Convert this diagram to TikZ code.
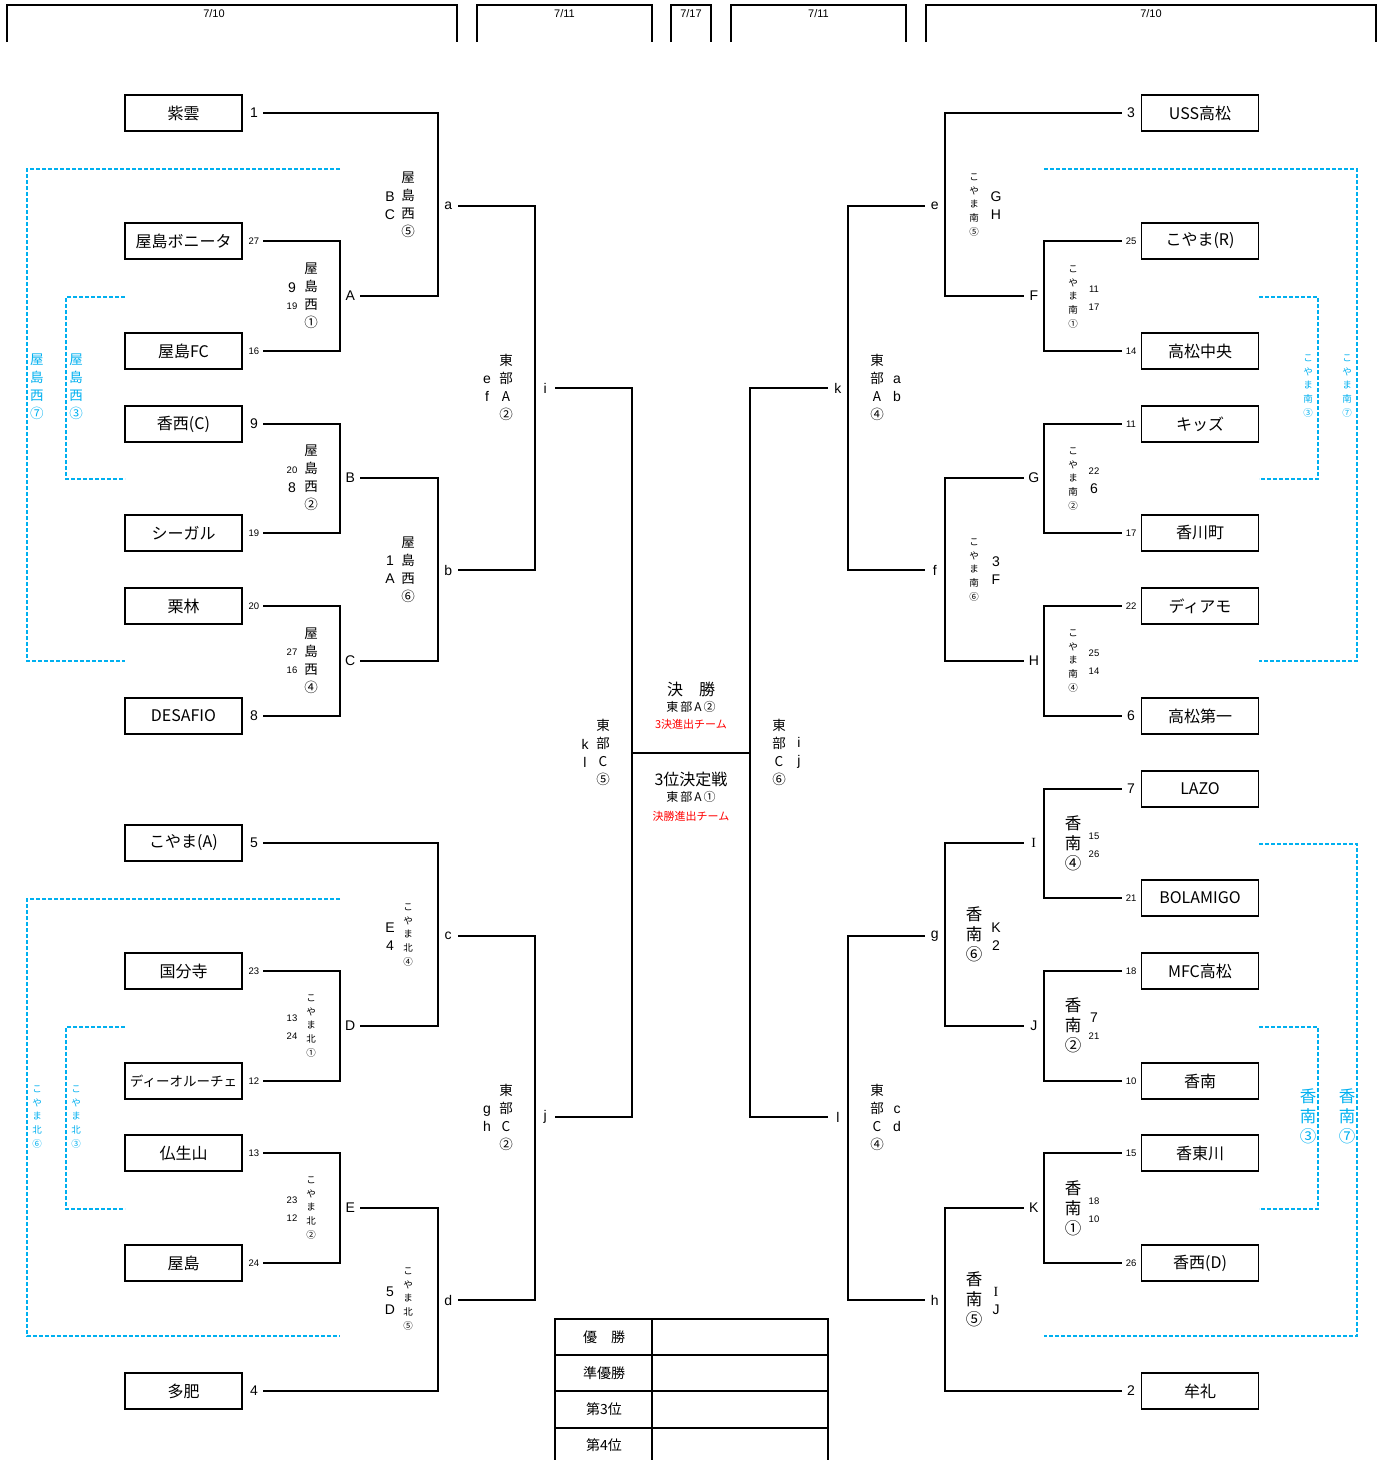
\documentclass[tikz,border=0pt]{standalone}
\usepackage{fontspec}
\setmainfont{Noto Sans CJK JP}
\newfontfamily\latinfont{Liberation Sans}
\newfontfamily\romanI{Liberation Serif}
\usetikzlibrary{positioning}
\definecolor{poolblue}{HTML}{00B0F0}
\definecolor{notered}{HTML}{FF0000}
\tikzset{
	header/.style={line width=1.2pt},
	datetext/.style={font=\latinfont\fontsize{11}{11}\selectfont, inner sep=0pt},
	team/.style={draw, line width=1.5pt, minimum width=117pt, minimum height=36pt, inner sep=0pt, font=\fontsize{16}{16}\selectfont},
	bignum/.style={font=\latinfont\fontsize{14}{14}\selectfont, minimum width=18pt, inner sep=0pt},
	smallnum/.style={font=\latinfont\fontsize{9.5}{9.5}\selectfont, minimum width=18pt, inner sep=0pt},
	rnd/.style={font=\latinfont\fontsize{14}{14}\selectfont, minimum width=20pt, inner sep=0pt},
	bracket/.style={line width=1.6pt},
	stack/.style={align=center, inner sep=0pt, font=\fontsize{13.5}{18}\selectfont},
	letterstack/.style={align=center, inner sep=0pt, font=\latinfont\fontsize{14}{18}\selectfont},
	tinystack/.style={align=center, inner sep=0pt, font=\fontsize{9.5}{13.8}\selectfont},
	konanstack/.style={align=center, inner sep=0pt, font=\fontsize{16.5}{20}\selectfont},
	smallstack/.style={align=center, inner sep=0pt, font=\latinfont\fontsize{9.5}{18}\selectfont},
	pool/.style={draw=poolblue, line width=1.3pt, dash pattern=on 4pt off 2pt},
	tablerule/.style={line width=1.5pt},
}
\begin{document}
\begin{tikzpicture}[x=1pt,y=-1pt]
	\useasboundingbox (0,0) rectangle (1387,1460);

	% dates
	\draw[header] (7,42) |- (457,5) -- (457,42);
	\draw[header] (477,42) |- (652,5) -- (652,42);
	\draw[header] (671,42) |- (711,5) -- (711,42);
	\draw[header] (731,42) |- (906,5) -- (906,42);
	\draw[header] (926,42) |- (1376,5) -- (1376,42);
	\node[datetext] (d1) at (214,14) {7/10};
	\node[datetext] (d2) at (564.5,14) {7/11};
	\node[datetext] (d3) at (691,14) {7/17};
	\node[datetext] (d4) at (818.5,14) {7/11};
	\node[datetext] (d5) at (1151,14) {7/10};

	% teams, left
	\node[team] (shiun) at (183.5,113) {紫雲};
	\node[team] (bonita) at (183.5,241) {屋島ボニータ};
	\node[team] (yfc) at (183.5,351) {屋島FC};
	\node[team] (kozaiC) at (183.5,424) {香西(C)};
	\node[team] (seagull) at (183.5,533) {シーガル};
	\node[team] (ritsurin) at (183.5,606) {栗林};
	\node[team] (desafio) at (183.5,716) {DESAFIO};
	\node[team] (koyamaA) at (183.5,843) {こやま(A)};
	\node[team] (kokubunji) at (183.5,971) {国分寺};
	\node[team, font=\fontsize{13.5}{13.5}\selectfont] (dioluce) at (183.5,1081) {ディーオルーチェ};
	\node[team] (bushozan) at (183.5,1153) {仏生山};
	\node[team] (yashima) at (183.5,1263) {屋島};
	\node[team] (tai) at (183.5,1391) {多肥};

	\node[bignum, right=2pt of shiun] (n-shiun) {1};
	\node[smallnum, right=2pt of bonita] (n-bonita) {27};
	\node[smallnum, right=2pt of yfc] (n-yfc) {16};
	\node[bignum, right=2pt of kozaiC] (n-kozaiC) {9};
	\node[smallnum, right=2pt of seagull] (n-seagull) {19};
	\node[smallnum, right=2pt of ritsurin] (n-ritsurin) {20};
	\node[bignum, right=2pt of desafio] (n-desafio) {8};
	\node[bignum, right=2pt of koyamaA] (n-koyamaA) {5};
	\node[smallnum, right=2pt of kokubunji] (n-kokubunji) {23};
	\node[smallnum, right=2pt of dioluce] (n-dioluce) {12};
	\node[smallnum, right=2pt of bushozan] (n-bushozan) {13};
	\node[smallnum, right=2pt of yashima] (n-yashima) {24};
	\node[bignum, right=2pt of tai] (n-tai) {4};

	% teams, right
	\node[team] (uss) at (1200,113) {USS高松};
	\node[team] (koyamaR) at (1200,241) {こやま(R)};
	\node[team] (tchuo) at (1200,351) {高松中央};
	\node[team] (kids) at (1200,424) {キッズ};
	\node[team] (kagawa) at (1200,533) {香川町};
	\node[team] (diamo) at (1200,606) {ディアモ};
	\node[team] (tdaiichi) at (1200,716) {高松第一};
	\node[team] (lazo) at (1200,789) {LAZO};
	\node[team] (bolamigo) at (1200,898) {BOLAMIGO};
	\node[team] (mfc) at (1200,971) {MFC高松};
	\node[team] (konan) at (1200,1081) {香南};
	\node[team] (kotogawa) at (1200,1153) {香東川};
	\node[team] (kozaiD) at (1200,1263) {香西(D)};
	\node[team] (mure) at (1200,1391) {牟礼};

	\node[bignum, left=0.5pt of uss] (n-uss) {3};
	\node[smallnum, left=0.5pt of koyamaR] (n-koyamaR) {25};
	\node[smallnum, left=0.5pt of tchuo] (n-tchuo) {14};
	\node[smallnum, left=0.5pt of kids] (n-kids) {11};
	\node[smallnum, left=0.5pt of kagawa] (n-kagawa) {17};
	\node[smallnum, left=0.5pt of diamo] (n-diamo) {22};
	\node[bignum, left=0.5pt of tdaiichi] (n-tdaiichi) {6};
	\node[bignum, left=0.5pt of lazo] (n-lazo) {7};
	\node[smallnum, left=0.5pt of bolamigo] (n-bolamigo) {21};
	\node[smallnum, left=0.5pt of mfc] (n-mfc) {18};
	\node[smallnum, left=0.5pt of konan] (n-konan) {10};
	\node[smallnum, left=0.5pt of kotogawa] (n-kotogawa) {15};
	\node[smallnum, left=0.5pt of kozaiD] (n-kozaiD) {26};
	\node[bignum, left=0.5pt of mure] (n-mure) {2};

	% match letters
	\node[rnd, anchor=west] (m-A) at (340,296) {A};
	\node[rnd, anchor=west] (m-B) at (340,478) {B};
	\node[rnd, anchor=west] (m-C) at (340,661) {C};
	\node[rnd, anchor=west] (m-D) at (340,1026) {D};
	\node[rnd, anchor=west] (m-E) at (340,1208) {E};
	\node[rnd, anchor=west] (m-a) at (438,206) {a};
	\node[rnd, anchor=west] (m-b) at (438,570) {b};
	\node[rnd, anchor=west] (m-c) at (438,936) {c};
	\node[rnd, anchor=west] (m-d) at (438,1300) {d};
	\node[rnd, anchor=west] (m-i) at (535,388) {i};
	\node[rnd, anchor=west] (m-j) at (535,1117) {j};
	\node[rnd, anchor=east] (m-F) at (1044,296) {F};
	\node[rnd, anchor=east] (m-G) at (1044,478) {G};
	\node[rnd, anchor=east] (m-H) at (1044,661) {H};
	\node[rnd, anchor=east] (m-I) at (1044,843) {\romanI I};
	\node[rnd, anchor=east] (m-J) at (1044,1026) {J};
	\node[rnd, anchor=east] (m-K) at (1044,1208) {K};
	\node[rnd, anchor=east] (m-e) at (945,206) {e};
	\node[rnd, anchor=east] (m-f) at (945,570) {f};
	\node[rnd, anchor=east] (m-g) at (945,936) {g};
	\node[rnd, anchor=east] (m-h) at (945,1300) {h};
	\node[rnd, anchor=east] (m-k) at (848,388) {k};
	\node[rnd, anchor=east] (m-l) at (848,1117) {l};
	\coordinate (finalL) at (632,753);
	\coordinate (finalR) at (750,753);

	% bracket, left
	\draw[bracket] (n-bonita.east) -| (m-A.west) |- (n-yfc.east);
	\draw[bracket] (n-kozaiC.east) -| (m-B.west) |- (n-seagull.east);
	\draw[bracket] (n-ritsurin.east) -| (m-C.west) |- (n-desafio.east);
	\draw[bracket] (n-shiun.east) -| (m-a.west) |- (m-A.east);
	\draw[bracket] (m-B.east) -| (m-b.west) |- (m-C.east);
	\draw[bracket] (m-a.east) -| (m-i.west) |- (m-b.east);
	\draw[bracket] (n-kokubunji.east) -| (m-D.west) |- (n-dioluce.east);
	\draw[bracket] (n-bushozan.east) -| (m-E.west) |- (n-yashima.east);
	\draw[bracket] (n-koyamaA.east) -| (m-c.west) |- (m-D.east);
	\draw[bracket] (m-E.east) -| (m-d.west) |- (n-tai.east);
	\draw[bracket] (m-c.east) -| (m-j.west) |- (m-d.east);

	% final
	\draw[bracket] (m-i.east) -| (finalL) |- (m-j.east);
	\draw[bracket] (finalL) -- (finalR);
	\draw[bracket] (m-k.west) -| (finalR) |- (m-l.west);

	% bracket, right
	\draw[bracket] (n-koyamaR.west) -| (m-F.east) |- (n-tchuo.west);
	\draw[bracket] (n-kids.west) -| (m-G.east) |- (n-kagawa.west);
	\draw[bracket] (n-diamo.west) -| (m-H.east) |- (n-tdaiichi.west);
	\draw[bracket] (n-uss.west) -| (m-e.east) |- (m-F.west);
	\draw[bracket] (m-G.west) -| (m-f.east) |- (m-H.west);
	\draw[bracket] (m-e.west) -| (m-k.east) |- (m-f.west);
	\draw[bracket] (n-lazo.west) -| (m-I.east) |- (n-bolamigo.west);
	\draw[bracket] (n-mfc.west) -| (m-J.east) |- (n-konan.west);
	\draw[bracket] (n-kotogawa.west) -| (m-K.east) |- (n-kozaiD.west);
	\draw[bracket] (m-I.west) -| (m-g.east) |- (m-J.west);
	\draw[bracket] (m-K.west) -| (m-h.east) |- (n-mure.west);
	\draw[bracket] (m-g.west) -| (m-l.east) |- (m-h.west);

	% referees and scores, left
	\node[stack] (r-a) at (408,205) {屋\\島\\西\\⑤};
	\node[letterstack] (s-a) at (390,206) {B\\C};
	\node[stack] (r-A) at (311,296) {屋\\島\\西\\①};
	\node[bignum] (s-A1) at (292,288) {9};
	\node[smallnum] (s-A2) at (292,306) {19};
	\node[stack] (r-B) at (311,478) {屋\\島\\西\\②};
	\node[smallnum] (s-B1) at (292,470) {20};
	\node[bignum] (s-B2) at (292,488) {8};
	\node[stack] (r-b) at (408,570) {屋\\島\\西\\⑥};
	\node[letterstack] (s-b) at (390,570) {1\\A};
	\node[stack] (r-C) at (311,661) {屋\\島\\西\\④};
	\node[smallstack] (s-C) at (292,661) {27\\16};
	\node[stack] (r-i) at (506,387) {東\\部\\A\\②};
	\node[letterstack] (s-i) at (487,389) {e\\f};
	\node[tinystack] (r-c) at (408,935) {こ\\や\\ま\\北\\④};
	\node[letterstack] (s-c) at (390,937) {E\\4};
	\node[tinystack] (r-D) at (311,1026) {こ\\や\\ま\\北\\①};
	\node[smallstack] (s-D) at (292,1027) {13\\24};
	\node[tinystack] (r-E) at (311,1208) {こ\\や\\ま\\北\\②};
	\node[smallstack] (s-E) at (292,1209) {23\\12};
	\node[tinystack] (r-d) at (408,1299) {こ\\や\\ま\\北\\⑤};
	\node[letterstack] (s-d) at (390,1301) {5\\D};
	\node[stack] (r-j) at (506,1117) {東\\部\\C\\②};
	\node[letterstack] (s-j) at (487,1119) {g\\h};

	% referees and scores, centre
	\node[stack] (r-kl) at (603,752) {東\\部\\C\\⑤};
	\node[letterstack] (s-kl) at (585,753) {k\\l};
	\node[stack] (r-ij) at (779,752) {東\\部\\C\\⑥};
	\node[letterstack] (s-ij) at (799,753) {i\\j};
	\node[font=\fontsize{16}{16}\selectfont, inner sep=0pt] (final) at (691,689) {決　勝};
	\node[font=\fontsize{12}{12}\selectfont, inner sep=0pt] (final-ref) at (691,707) {東\,部\,A\,②};
	\node[font=\fontsize{11}{11}\selectfont, inner sep=0pt, text=notered] (final-note) at (691,724) {3決進出チーム};
	\node[font=\fontsize{16}{16}\selectfont, inner sep=0pt] (third) at (691,779) {3位決定戦};
	\node[font=\fontsize{12}{12}\selectfont, inner sep=0pt] (third-ref) at (691,797) {東\,部\,A\,①};
	\node[font=\fontsize{11}{11}\selectfont, inner sep=0pt, text=notered] (third-note) at (691,816) {決勝進出チーム};

	% referees and scores, right
	\node[tinystack] (r-e) at (974,205) {こ\\や\\ま\\南\\⑤};
	\node[letterstack] (s-e) at (996,206) {G\\H};
	\node[tinystack] (r-F) at (1073,297) {こ\\や\\ま\\南\\①};
	\node[smallstack] (s-F) at (1094,298) {11\\17};
	\node[stack] (r-k) at (877,387) {東\\部\\A\\④};
	\node[letterstack] (s-k) at (897,389) {a\\b};
	\node[tinystack] (r-G) at (1073,479) {こ\\や\\ま\\南\\②};
	\node[smallnum] (s-G1) at (1094,471) {22};
	\node[bignum] (s-G2) at (1094,489) {6};
	\node[tinystack] (r-f) at (974,570) {こ\\や\\ま\\南\\⑥};
	\node[letterstack] (s-f) at (996,571) {3\\F};
	\node[tinystack] (r-H) at (1073,661) {こ\\や\\ま\\南\\④};
	\node[smallstack] (s-H) at (1094,662) {25\\14};
	\node[konanstack] (r-I) at (1073,843) {香\\南\\④};
	\node[smallstack] (s-I) at (1094,845) {15\\26};
	\node[konanstack] (r-g) at (974,934) {香\\南\\⑥};
	\node[letterstack] (s-g) at (996,937) {K\\2};
	\node[konanstack] (r-J) at (1073,1025) {香\\南\\②};
	\node[bignum] (s-J1) at (1094,1018) {7};
	\node[smallnum] (s-J2) at (1094,1036) {21};
	\node[stack] (r-l) at (877,1117) {東\\部\\C\\④};
	\node[letterstack] (s-l) at (897,1119) {c\\d};
	\node[konanstack] (r-K) at (1073,1208) {香\\南\\①};
	\node[smallstack] (s-K) at (1094,1210) {18\\10};
	\node[konanstack] (r-h) at (974,1299) {香\\南\\⑤};
	\node[letterstack] (s-h) at (996,1301) {{\romanI I}\\J};

	% pools
	\draw[pool] (340,169) -- (27,169) -- (27,661) -- (125,661);
	\draw[pool] (125,297) -- (66,297) -- (66,479) -- (125,479);
	\draw[pool] (340,899) -- (27,899) -- (27,1336) -- (340,1336);
	\draw[pool] (125,1027) -- (66,1027) -- (66,1209) -- (125,1209);
	\draw[pool] (1044,169) -- (1357,169) -- (1357,661) -- (1259,661);
	\draw[pool] (1259,297) -- (1318,297) -- (1318,479) -- (1259,479);
	\draw[pool] (1259,844) -- (1357,844) -- (1357,1336) -- (1044,1336);
	\draw[pool] (1259,1027) -- (1318,1027) -- (1318,1209) -- (1259,1209);
	\node[stack, text=poolblue] (p-yn7) at (37,387) {屋\\島\\西\\⑦};
	\node[stack, text=poolblue] (p-yn3) at (76,387) {屋\\島\\西\\③};
	\node[tinystack, text=poolblue] (p-kn6) at (37,1117) {こ\\や\\ま\\北\\⑥};
	\node[tinystack, text=poolblue] (p-kn3) at (76,1117) {こ\\や\\ま\\北\\③};
	\node[tinystack, text=poolblue] (p-ks3) at (1308,386) {こ\\や\\ま\\南\\③};
	\node[tinystack, text=poolblue] (p-ks7) at (1347,386) {こ\\や\\ま\\南\\⑦};
	\node[konanstack, text=poolblue] (p-kk3) at (1308,1116) {香\\南\\③};
	\node[konanstack, text=poolblue] (p-kk7) at (1347,1116) {香\\南\\⑦};

	% results
	\draw[tablerule] (555,1460) |- (828,1319) -- (828,1460);
	\draw[tablerule] (555,1355) -- (828,1355);
	\draw[tablerule] (555,1391) -- (828,1391);
	\draw[tablerule] (555,1428) -- (828,1428);
	\draw[tablerule] (652,1319) -- (652,1460);
	\node[font=\fontsize{14}{14}\selectfont, inner sep=0pt] (res1) at (604,1337) {優　勝};
	\node[font=\fontsize{14}{14}\selectfont, inner sep=0pt] (res2) at (604,1373) {準優勝};
	\node[font=\fontsize{14}{14}\selectfont, inner sep=0pt] (res3) at (604,1409) {第3位};
	\node[font=\fontsize{14}{14}\selectfont, inner sep=0pt] (res4) at (604,1445) {第4位};
\end{tikzpicture}
\end{document}
